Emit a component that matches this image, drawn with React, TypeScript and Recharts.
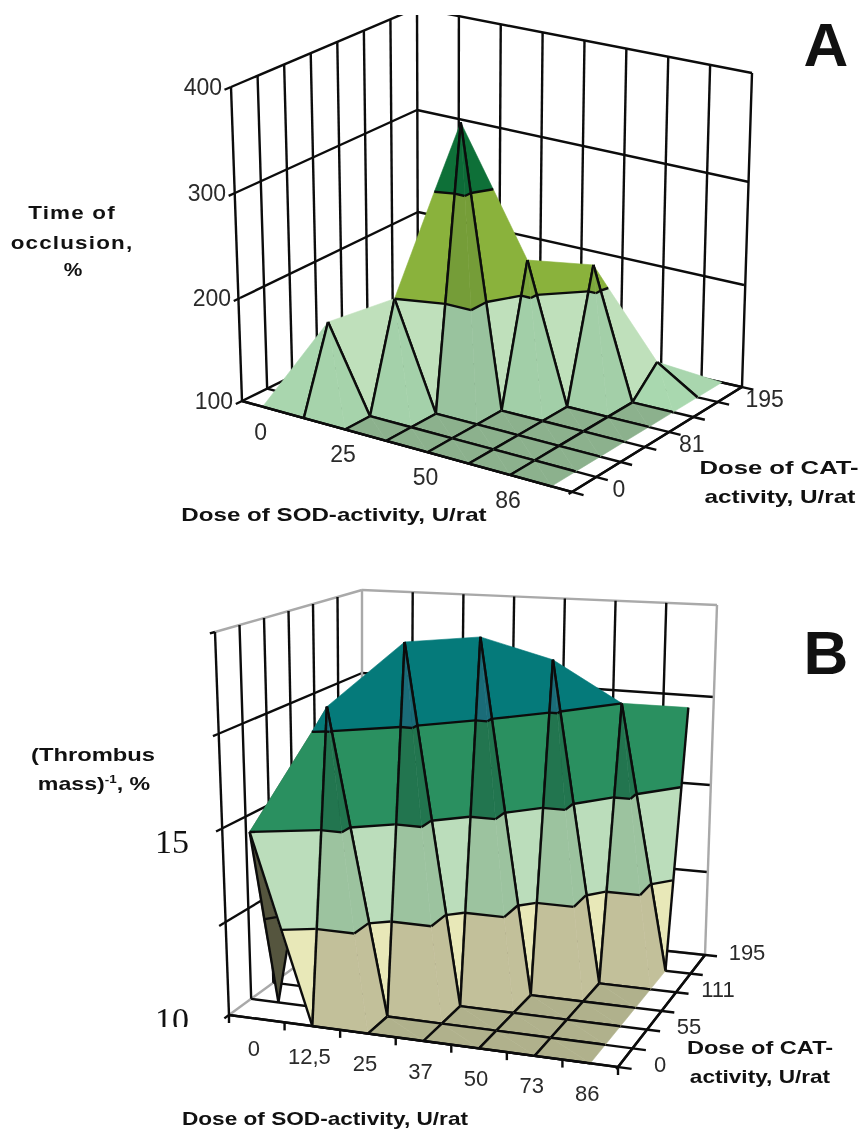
import React from "react"
import { ScatterChart, Scatter, XAxis, YAxis } from "recharts"

// ---- panel A values (rows run from CAT 0 at the front to CAT 195 at the back)
const sodLabelsA = ["0", "", "25", "", "50", "", "86", ""]
const catLabelsA = ["0", "", "", "81", "", "", "195", ""]
const levelsA = [100, 200, 300, 400]
const levelLabelsA = ["100", "200", "300", "400"]
const surfaceA: (number | null)[][] = [
  [100, 100, 100, 100, 100, 100, 100, 100],
  [null, 180, 100, 100, 100, 100, 100, 100],
  [null, null, 200, 100, 100, 100, 100, 100],
  [null, null, null, 364, 100, 100, 100, 100],
  [null, null, null, null, 231, 100, 100, 100],
  [null, null, null, null, null, 223, 100, 100],
  [null, null, null, null, null, null, 125, 100],
  [null, null, null, null, null, null, null, 100],
]

// ---- panel B values
const sodLabelsB = ["0", "12,5", "25", "37", "50", "73", "86"]
const catLabelsB = ["0", "", "55", "", "111", "", "195"]
const levelsB = [10, 12.5, 15, 17.5, 20]
const surfaceB: (number | null)[][] = [
  [15, 10, 10, 10, 10, 10, 10],
  [10, 18.1, 10, 10, 10, 10, 10],
  [null, null, 19.6, 10, 10, 10, 10],
  [null, null, null, 19.6, 10, 10, 10],
  [null, null, null, null, 18.85, 10, 10],
  [null, null, null, null, null, 17.5, 10],
  [null, null, null, null, null, null, 17.15],
]

// box corners per level: L = SOD 0 / CAT 0, F = SOD max / CAT 0, R = SOD max / CAT max, B = SOD 0 / CAT max
const boxA = {
  L: [[242, 401], [240, 298], [235, 193], [231, 87]],
  F: [[572, 492], [574, 382], [577, 272], [580, 162]],
  R: [[742, 387], [744, 285], [749, 182], [752, 73]],
  B: [[418, 314], [418, 212], [417, 110], [417, 8]],
}
const boxB = {
  L: [[229, 1015], [224, 923], [221, 829], [218, 734], [215, 632]],
  F: [[618, 1067], [620, 971], [622, 870], [625, 768], [628, 659]],
  R: [[705, 955], [707, 872], [710, 785], [714, 697], [717, 605]],
  B: [[362, 918], [362, 840], [362, 758], [362, 673], [362, 590]],
}

const paletteA = {
  t: ["#BFE0BB", "#8AB23C", "#0E7038"],
  tLow: ["#A9D6AE", "#8AB23C", "#0E7038"],
  q: ["#ABDAB1", "#83B03F", "#0F783F"],
  back: ["#555", "#555", "#555"],
  floor: "#8CB18D",
  qDarken: 0.12,
}
const paletteB = {
  t: ["#E8E8B8", "#BBDDBB", "#2A9060", "#057A7A"],
  tLow: ["#E8E8B8", "#BBDDBB", "#2A9060", "#057A7A"],
  q: ["#C2C09A", "#9CC39F", "#22754F", "#1A6C78"],
  back: ["#55553E", "#55553E", "#3F6650", "#3F6650"],
  floor: "#B0B18C",
  qDarken: 0,
}

const BLACK = "#0c0c0c"
const GRAY = "#a9a9a9"
const LINE_W = 2.4

type Pt = { x: number; y: number }
type Box = { L: number[][]; F: number[][]; R: number[][]; B: number[][] }
type Node3 = { i: number; j: number; z: number }
type Item = { poly?: string; stroke?: string; width?: number; pts: Pt[] }

function makeProjector(box: Box, levels: number[]) {
  const atLevel = (col: number[][], z: number) => {
    let k = 0
    while (k < levels.length - 2 && z > levels[k + 1]) k++
    const f = (z - levels[k]) / (levels[k + 1] - levels[k])
    return [col[k][0] + (col[k + 1][0] - col[k][0]) * f, col[k][1] + (col[k + 1][1] - col[k][1]) * f]
  }
  return (u: number, v: number, z: number): Pt => {
    const l = atLevel(box.L, z)
    const f = atLevel(box.F, z)
    const r = atLevel(box.R, z)
    const b = atLevel(box.B, z)
    return {
      x: (1 - u) * (1 - v) * l[0] + u * (1 - v) * f[0] + u * v * r[0] + (1 - u) * v * b[0],
      y: (1 - u) * (1 - v) * l[1] + u * (1 - v) * f[1] + u * v * r[1] + (1 - u) * v * b[1],
    }
  }
}

function clipZ(poly: Node3[], limit: number, keepAbove: boolean) {
  const out: Node3[] = []
  poly.forEach((p, n) => {
    const q = poly[(n + 1) % poly.length]
    const pIn = keepAbove ? p.z >= limit : p.z <= limit
    const qIn = keepAbove ? q.z >= limit : q.z <= limit
    if (pIn) out.push(p)
    if (pIn !== qIn) {
      const t = (limit - p.z) / (q.z - p.z)
      out.push({ i: p.i + (q.i - p.i) * t, j: p.j + (q.j - p.j) * t, z: limit })
    }
  })
  return out
}

function darken(hex: string, f: number) {
  const n = parseInt(hex.slice(1), 16)
  const c = [n >> 16, (n >> 8) & 255, n & 255].map((v) => Math.round(v * (1 - f)))
  return `rgb(${c[0]},${c[1]},${c[2]})`
}

function buildScene(surface: (number | null)[][], levels: number[], box: Box, palette: any, outline: string) {
  const project = makeProjector(box, levels)
  const cols = surface[0].length
  const rows = surface.length
  const floorZ = levels[0]
  const topZ = levels[levels.length - 1]
  const items: Item[] = []
  const line = (pts: Pt[], stroke = BLACK, width = LINE_W) => items.push({ pts, stroke, width })
  const toPx = (n: Node3) => project((n.i + 0.5) / cols, n.j / (rows - 1), n.z)

  // walls
  levels.forEach((z, k) => {
    const c = k === levels.length - 1 ? outline : BLACK
    line([project(0, -0.035, z), project(0, 0, z)])
    line([project(0, 0, z), project(0, 1, z)], k === 0 ? outline : c)
    line([project(0, 1, z), project(1, 1, z)], k === 0 ? outline : c)
  })
  for (let k = 0; k < rows; k++) {
    const v = k / (rows - 1)
    line([project(0, v, floorZ), project(0, v, topZ)], k === rows - 1 ? outline : BLACK)
  }
  for (let k = 1; k <= cols; k++) {
    const u = k / cols
    line([project(u, 1, floorZ), project(u, 1, topZ)], k === cols ? outline : BLACK)
  }
  // floor
  for (let k = 0; k < rows; k++) {
    const v = k / (rows - 1)
    line([project(0, v, floorZ), project(1.035, v, floorZ)])
  }
  line([project(1, 0, floorZ), project(1, 1, floorZ)])

  // surface, back row first
  const drawTriangle = (tri: Node3[], kind: string, edges: Node3[][], peak: number) => {
    const flat = tri.every((n) => n.z === floorZ)
    for (let b = 0; b < levels.length - 1; b++) {
      const lo = levels[b]
      const hi = levels[b + 1]
      const part = clipZ(clipZ(tri, lo, true), hi, false)
      if (part.length < 3) continue
      let fill = palette[kind][b]
      if (flat) fill = palette.floor
      else if (kind === "q") fill = darken(fill, palette.qDarken * ((peak - floorZ) / (topZ - floorZ)))
      items.push({ poly: fill, pts: part.map(toPx) })
    }
    if (!flat) {
      levels.slice(1, -1).forEach((z) => {
        const cross: Node3[] = []
        tri.forEach((p, n) => {
          const q = tri[(n + 1) % 3]
          if ((p.z - z) * (q.z - z) < 0 || p.z === z) {
            const t = p.z === q.z ? 0 : (z - p.z) / (q.z - p.z)
            cross.push({ i: p.i + (q.i - p.i) * t, j: p.j + (q.j - p.j) * t, z })
          }
        })
        if (cross.length >= 2) line([toPx(cross[0]), toPx(cross[1])])
      })
    }
    edges.forEach(([p, q]) => {
      const lastCol = p.i === cols - 1 && q.i === cols - 1
      if (lastCol && p.z === floorZ && q.z === floorZ) return
      line([toPx(p), toPx(q)])
    })
  }

  for (let j = rows - 2; j >= 0; j--) {
    for (let i = 0; i < cols - 1; i++) {
      const get = (ii: number, jj: number): Node3 | null => {
        const z = surface[jj][ii]
        return z === null ? null : { i: ii, j: jj, z }
      }
      const a = get(i, j)
      const b = get(i + 1, j)
      const c = get(i + 1, j + 1)
      const d = get(i, j + 1)
      if (!a || !b || !c) continue
      if (!d) {
        const second = [a.z, b.z, c.z].sort((m, n) => n - m)[1]
        drawTriangle([a, b, c], second === floorZ ? "tLow" : "t", [[a, b], [b, c]], 0)
      } else if (a.z + c.z > b.z + d.z) {
        drawTriangle([a, c, d], "back", [[c, d], [d, a]], 0)
        drawTriangle([a, b, c], "t", [[a, b], [b, c]], 0)
      } else {
        const peak = Math.max(a.z, b.z, c.z, d.z)
        drawTriangle([a, b, d], "q", [[a, b], [d, a]], peak)
        drawTriangle([b, c, d], "q", [[b, c], [c, d]], peak)
      }
    }
  }
  // front edge on top
  line([project(0, 0, floorZ), project(1, 0, floorZ)])
  line([project(1, -0.02, floorZ), project(1, 1, floorZ)])
  return { items, project }
}

const NoDot = () => <g />

const tickLabel = (size: number, color: string, family: string) => (p: any) => (
  <text
    x={p.cx}
    y={p.cy}
    textAnchor={p.payload.anchor || "middle"}
    dominantBaseline="central"
    fontSize={size}
    fill={color}
    fontFamily={family}
  >
    {p.payload.label}
  </text>
)

function SurfacePanel(props: {
  top: number
  height: number
  surface: (number | null)[][]
  levels: number[]
  box: Box
  palette: any
  outline: string
  sodLabels: string[]
  catLabels: string[]
  levelLabels?: string[]
  sodOffset: number[]
  catOffset: number[]
  frontTicks: boolean
  fontSize: number
}) {
  const { top, height, surface, levels, box, palette, outline, sodLabels, catLabels, levelLabels } = props
  const { items, project } = buildScene(surface, levels, box, palette, outline)
  const cols = surface[0].length
  const rows = surface.length
  const floorZ = levels[0]

  const labels: any[] = []
  sodLabels.forEach((label, i) => {
    if (!label) return
    const p = project((i + 0.5) / cols, 0, floorZ)
    labels.push({ x: p.x + props.sodOffset[0], y: p.y + props.sodOffset[1], label })
  })
  catLabels.forEach((label, j) => {
    if (!label) return
    const p = project(1, j / (rows - 1), floorZ)
    labels.push({ x: p.x + props.catOffset[0], y: p.y + props.catOffset[1], label })
  })
  if (levelLabels) {
    levelLabels.forEach((label, k) => {
      const p = project(0, 0, levels[k])
      labels.push({ x: p.x - 9, y: p.y, label, anchor: "end" })
    })
  }
  if (props.frontTicks) {
    for (let k = 0; k <= cols; k++) {
      const p = project(k / cols, 0, floorZ)
      items.push({ pts: [p, { x: p.x, y: p.y + 8 }], stroke: BLACK, width: LINE_W })
    }
  }

  return (
    <div style={{ position: "absolute", left: 0, top }}>
      <ScatterChart width={859} height={height} margin={{ top: 0, right: 0, bottom: 0, left: 0 }}>
        <XAxis type="number" dataKey="x" domain={[0, 859]} hide allowDataOverflow />
        <YAxis type="number" dataKey="y" domain={[top, top + height]} reversed hide allowDataOverflow />
        {items.map((it, n) =>
          it.poly ? (
            <Scatter
              key={n}
              data={it.pts}
              shape={NoDot}
              isAnimationActive={false}
              line={(lp: any) => (
                <polygon
                  points={lp.points.map((q: Pt) => `${q.x},${q.y}`).join(" ")}
                  fill={it.poly}
                  stroke={it.poly}
                  strokeWidth={0.6}
                />
              )}
            />
          ) : (
            <Scatter
              key={n}
              data={it.pts}
              shape={NoDot}
              isAnimationActive={false}
              line={{ stroke: it.stroke, strokeWidth: it.width }}
            />
          )
        )}
        <Scatter
          data={labels}
          isAnimationActive={false}
          shape={tickLabel(props.fontSize, "#2a2a2a", "Liberation Sans")}
        />
      </ScatterChart>
    </div>
  )
}

// bold captions are stretched sideways in the reference
const boldText = (cx: number, cy: number, text: React.ReactNode, stretch: number, extra: any = {}) => (
  <div
    style={{
      position: "absolute",
      left: cx - 150,
      top: cy - 12,
      width: 300,
      textAlign: "center",
      whiteSpace: "nowrap",
      fontFamily: "Liberation Sans",
      fontWeight: 700,
      fontSize: 19,
      lineHeight: "24px",
      color: "#111",
      transform: `scaleX(${stretch})`,
      ...extra,
    }}
  >
    {text}
  </div>
)

export default function App() {
  return (
    <div
      style={{
        position: "absolute",
        left: 0,
        top: 0,
        width: 859,
        height: 1129,
        background: "#fff",
        overflow: "hidden",
        filter: "blur(0.45px)",
      }}
    >
      <SurfacePanel
        top={15}
        height={510}
        surface={surfaceA}
        levels={levelsA}
        box={boxA}
        palette={paletteA}
        outline={BLACK}
        sodLabels={sodLabelsA}
        catLabels={catLabelsA}
        levelLabels={levelLabelsA}
        sodOffset={[-2, 25]}
        catOffset={[47, -3]}
        frontTicks={false}
        fontSize={23}
      />
      <SurfacePanel
        top={575}
        height={554}
        surface={surfaceB}
        levels={levelsB}
        box={boxB}
        palette={paletteB}
        outline={GRAY}
        sodLabels={sodLabelsB}
        catLabels={catLabelsB}
        sodOffset={[-3, 30]}
        catOffset={[42, -3]}
        frontTicks={true}
        fontSize={22}
      />

      {boldText(72, 213, "Time of", 1.18, { letterSpacing: 1 })}
      {boldText(72, 243, "occlusion,", 1.18, { letterSpacing: 1 })}
      {boldText(73, 270, "%", 1.1)}
      {boldText(334, 515, "Dose of SOD-activity, U/rat", 1.27)}
      {boldText(779, 468, "Dose of CAT-", 1.35)}
      {boldText(780, 497, "activity, U/rat", 1.28)}
      {boldText(826, 45, "A", 1, { fontSize: 62, lineHeight: "70px", top: 10 })}

      {boldText(93, 755, "(Thrombus", 1.25)}
      {boldText(94, 784, <>mass)<sup style={{ fontSize: 11, lineHeight: 0 }}>-1</sup>, %</>, 1.22)}
      {boldText(325, 1119, "Dose of SOD-activity, U/rat", 1.19)}
      {boldText(760, 1048, "Dose of CAT-", 1.24)}
      {boldText(760, 1077, "activity, U/rat", 1.19)}
      {boldText(826, 650, "B", 1, { fontSize: 62, lineHeight: "70px", top: 618 })}

      <div style={{ position: "absolute", left: 150, top: 822, width: 44, textAlign: "center", fontFamily: "Liberation Serif", fontSize: 34, lineHeight: "40px", color: "#111" }}>15</div>
      <div style={{ position: "absolute", left: 150, top: 1000, width: 44, height: 27, overflow: "hidden", textAlign: "center", fontFamily: "Liberation Serif", fontSize: 34, lineHeight: "40px", color: "#111" }}>10</div>
    </div>
  )
}
